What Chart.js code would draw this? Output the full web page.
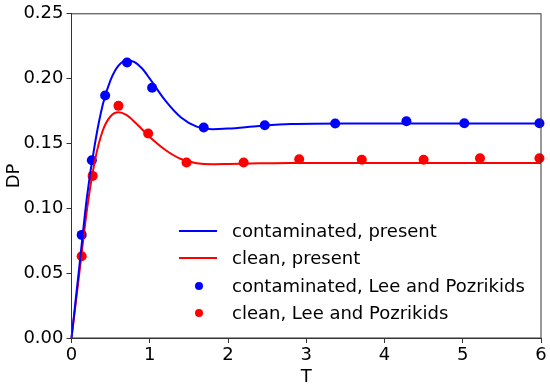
<!DOCTYPE html>
<html>
<head>
<meta charset="utf-8">
<script src="https://cdn.jsdelivr.net/npm/chart.js@4"></script>
<style>
  html, body { margin: 0; padding: 0; background: #fff; }
  #wrap { width: 550px; height: 388px; }
</style>
</head>
<body>
<div id="wrap"><canvas id="dpChart" width="550" height="388"></canvas></div>
<script>
// present solution (curves)
const curveT = [0, 0.1, 0.2, 0.3, 0.4, 0.5, 0.6, 0.7, 0.8, 0.9, 1.0, 1.2, 1.4, 1.6, 1.8, 2.0, 2.4, 2.8, 3.5, 4.5, 6.0];
const contamCurve = [0, 0.055, 0.11, 0.15, 0.18, 0.199, 0.21, 0.214, 0.213, 0.208, 0.2, 0.183, 0.17, 0.163, 0.161, 0.1615, 0.1635, 0.165, 0.1655, 0.1655, 0.1655];
const cleanCurve = [0, 0.05, 0.1, 0.137, 0.16, 0.171, 0.174, 0.172, 0.167, 0.161, 0.155, 0.145, 0.138, 0.1348, 0.134, 0.1342, 0.1347, 0.135, 0.135, 0.135, 0.135];

// Lee and Pozrikidis points
const contamT = [0.13, 0.26, 0.43, 0.71, 1.03, 1.69, 2.47, 3.37, 4.28, 5.02, 5.98];
const contamDP = [0.0795, 0.137, 0.187, 0.2125, 0.193, 0.1623, 0.164, 0.1654, 0.1672, 0.1656, 0.1656];
const cleanT = [0.13, 0.27, 0.60, 0.98, 1.47, 2.20, 2.91, 3.71, 4.50, 5.22, 5.98];
const cleanDP = [0.063, 0.125, 0.179, 0.1577, 0.1353, 0.1353, 0.1378, 0.1374, 0.1374, 0.1386, 0.1386];

const xTicks = [0, 1, 2, 3, 4, 5, 6];
const yTicks = [0, 0.05, 0.10, 0.15, 0.20, 0.25];

const font = "'DejaVu Sans', sans-serif";
const pts = (xs, ys) => xs.map((x, i) => ({ x: x, y: ys[i] }));

// matplotlib-like frame + in-plot legend
const framePlugin = {
    id: 'frame',
    afterDraw(chart) {
        const { ctx, chartArea: a } = chart;
        ctx.save();
        ctx.strokeStyle = '#333';
        ctx.lineWidth = 1;
        ctx.strokeRect(a.left, a.top, a.right - a.left, a.bottom - a.top);

        const rows = [231, 258, 286, 313];
        ctx.font = "18px " + font;
        ctx.textBaseline = 'middle';
        chart.data.datasets.forEach((ds, i) => {
            const y = rows[i];
            if (ds.showLine) {
                ctx.strokeStyle = ds.borderColor;
                ctx.lineWidth = 2;
                ctx.beginPath();
                ctx.moveTo(179, y);
                ctx.lineTo(217, y);
                ctx.stroke();
            } else {
                ctx.fillStyle = ds.backgroundColor;
                ctx.beginPath();
                ctx.arc(199, y, 4, 0, Math.PI * 2);
                ctx.fill();
            }
            ctx.fillStyle = '#000';
            ctx.fillText(ds.label, 232, y + 1);
        });
        ctx.restore();
    }
};

new Chart(document.getElementById('dpChart').getContext('2d'), {
    type: 'scatter',
    data: {
        datasets: [
            {
                label: 'contaminated, present',
                data: pts(curveT, contamCurve),
                showLine: true,
                borderColor: '#0000ff',
                backgroundColor: '#0000ff',
                borderWidth: 2,
                pointRadius: 0,
                cubicInterpolationMode: 'monotone'
            },
            {
                label: 'clean, present',
                data: pts(curveT, cleanCurve),
                showLine: true,
                borderColor: '#ff0000',
                backgroundColor: '#ff0000',
                borderWidth: 2,
                pointRadius: 0,
                cubicInterpolationMode: 'monotone'
            },
            {
                label: 'contaminated, Lee and Pozrikids',
                data: pts(contamT, contamDP),
                showLine: false,
                backgroundColor: '#0000ff',
                borderColor: '#0000ff',
                pointRadius: 5,
                borderWidth: 0
            },
            {
                label: 'clean, Lee and Pozrikids',
                data: pts(cleanT, cleanDP),
                showLine: false,
                backgroundColor: '#ff0000',
                borderColor: '#ff0000',
                pointRadius: 5,
                borderWidth: 0
            }
        ]
    },
    options: {
        responsive: false,
        animation: false,
        clip: false,
        layout: { padding: { top: 11, right: 9, left: 0, bottom: 0 } },
        plugins: {
            legend: { display: false },
            tooltip: { enabled: false }
        },
        scales: {
            x: {
                type: 'linear',
                min: 0,
                max: 6,
                afterBuildTicks: (s) => { s.ticks = xTicks.map(v => ({ value: v })); },
                afterFit: (s) => { s.height = 50; },
                grid: { display: true, drawOnChartArea: false, drawTicks: true, tickLength: 5, color: '#333' },
                border: { display: true, color: '#333' },
                ticks: { color: '#000', font: { family: font, size: 18 }, padding: 2, maxRotation: 0 },
                title: { display: true, text: 'T', color: '#000', font: { family: font, size: 18 }, padding: { top: 0, bottom: 0 } }
            },
            y: {
                type: 'linear',
                min: 0,
                max: 0.25,
                afterBuildTicks: (s) => { s.ticks = yTicks.map(v => ({ value: v })); },
                afterFit: (s) => { s.width = 71.5; },
                grid: { display: true, drawOnChartArea: false, drawTicks: true, tickLength: 5, color: '#333' },
                border: { display: true, color: '#333' },
                ticks: { color: '#000', font: { family: font, size: 18 }, padding: 3, callback: (v) => v.toFixed(2) },
                title: { display: true, text: 'DP', color: '#000', font: { family: font, size: 18 }, padding: { bottom: 0 } }
            }
        }
    },
    plugins: [framePlugin]
});
</script>
</body>
</html>
